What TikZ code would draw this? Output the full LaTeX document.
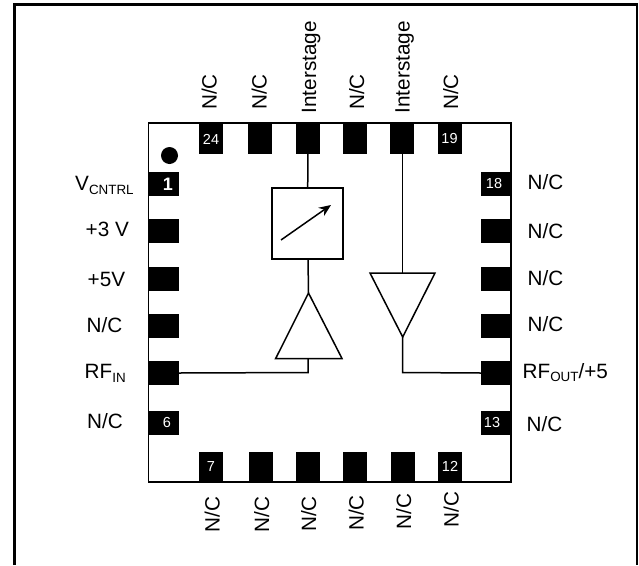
\documentclass[tikz,border=0pt]{standalone}
\usepackage{fontspec}
\setmainfont{Liberation Sans}
\usetikzlibrary{arrows.meta}
\tikzset{x=1pt,y=-1pt,
 pad/.style={fill=black,draw=none,inner sep=0pt,text=white,font=\fontsize{14.5}{16}\selectfont},
 hpad/.style={pad,minimum width=30pt,minimum height=24pt},
 vpad/.style={pad,minimum width=24pt,minimum height=30pt},
 lab/.style={font=\fontsize{20.7}{22}\selectfont,inner sep=0pt,text=black},
 wire/.style={line width=1.5pt},
 body/.style={line width=1.5pt,draw=black,fill=white}}
\newcommand{\lsub}[1]{\raisebox{-0.32ex}{\fontsize{13.4}{14}\selectfont #1}}
\begin{document}
\begin{tikzpicture}[line join=miter]
\useasboundingbox (0,0) rectangle (639,565);
\draw[line width=2.7pt] (14.7,565) -- (14.7,4.7) -- (637,4.7) -- (637,565);
\draw[line width=1.5pt] (148.5,123) rectangle (511,482);
% left pads
\node[hpad] (l1) at (164,184) {\hspace*{8pt}\textbf{\fontsize{18}{20}\selectfont 1}};
\node[hpad] (l2) at (164,231) {};
\node[hpad] (l3) at (164,279) {};
\node[hpad] (l4) at (164,326) {};
\node[hpad] (l5) at (164,373) {};
\node[hpad] (l6) at (164,422.5) {\hspace*{6pt}6};
% right pads
\node[hpad] (r18) at (496,184) {18\hspace*{4pt}};
\node[hpad] (r17) at (496,231) {};
\node[hpad] (r16) at (496,279) {};
\node[hpad] (r15) at (496,326) {};
\node[hpad] (r14) at (496,373) {};
\node[hpad] (r13) at (496,422.5) {13\hspace*{8pt}};
% top pads
\node[vpad] (t24) at (211,139) {24};
\node[vpad] (t23) at (260,139) {};
\node[vpad] (t22) at (308,139) {};
\node[vpad] (t21) at (355,139) {};
\node[vpad] (t20) at (402,139) {};
\node[vpad] (t19) at (449.5,139) {\raisebox{-2pt}{19}};
% bottom pads
\node[vpad] (b7) at (211,467) {7};
\node[vpad] (b8) at (261,467) {};
\node[vpad] (b9) at (308,467) {};
\node[vpad] (b10) at (355,467) {};
\node[vpad] (b11) at (403,467) {};
\node[vpad] (b12) at (450,467) {\raisebox{2pt}{12}};
\node[circle,fill=black,minimum size=17pt,inner sep=0pt] (dot) at (169.5,155.5) {};
% attenuator
\node[body,minimum width=71pt,minimum height=71pt,inner sep=0pt] (att) at (307.5,223.5) {};
\coordinate (as) at (281,240);
\coordinate (ae) at (331,205);
\draw[line width=1.5pt,-{Stealth[length=12pt,width=10pt]}] (as) -- (ae);
% amps
\coordinate (a1t) at (308.5,293);
\coordinate (a1l) at (275.7,358.5);
\coordinate (a1r) at (342,358.5);
\coordinate (a1b) at (308,358.5);
\draw[body] (a1t) -- (a1r) -- (a1l) -- cycle;
\coordinate (a2b) at (402.7,337);
\coordinate (a2l) at (370,273);
\coordinate (a2r) at (435,273);
\coordinate (a2t) at (402.7,273);
\draw[body] (a2b) -- (a2r) -- (a2l) -- cycle;
% wires
\draw[wire] (t22) -- (att);
\draw[wire] (att) -- (a1t);
\draw[wire] (t20.south -| a2t) -- (a2t);
\draw[wire] (l5.east) -- (308,372.5) -- (a1b);
\draw[wire] (a2b) -- (402.7,372.5) -- (r14.west);
% left labels
\node[lab,anchor=base west] (lv) at (75,190.5) {V\lsub{CNTRL}};
\node[lab,anchor=base west] (lp3) at (85.5,236.7) {+3 V};
\node[lab,anchor=base west] (lp5) at (87.5,286) {+5V};
\node[lab,anchor=base west] (ln4) at (86.5,332.7) {N/C};
\node[lab,anchor=base west] (lrf) at (84.5,378.5) {RF\lsub{IN}};
\node[lab,anchor=base west] (ln6) at (87,428) {N/C};
% right labels
\node[lab,anchor=base west] (rn1) at (527.5,189) {N/C};
\node[lab,anchor=base west] (rn2) at (527.5,238) {N/C};
\node[lab,anchor=base west] (rn3) at (527.5,285) {N/C};
\node[lab,anchor=base west] (rn4) at (527.5,331) {N/C};
\node[lab,anchor=base west] (rrf) at (522.5,378) {RF\lsub{OUT}/+5};
\node[lab,anchor=base west] (rn6) at (526.5,431) {N/C};
% top labels
\node[lab,rotate=90,anchor=base west] (u1) at (216.7,110) {N/C};
\node[lab,rotate=90,anchor=base west] (u2) at (266.5,110) {N/C};
\node[lab,rotate=90,anchor=base west] (u3) at (316,113.5) {Interstage};
\node[lab,rotate=90,anchor=base west] (u4) at (364,110) {N/C};
\node[lab,rotate=90,anchor=base west] (u5) at (409.5,113.5) {Interstage};
\node[lab,rotate=90,anchor=base west] (u6) at (458,110) {N/C};
% bottom labels
\node[lab,rotate=90,anchor=base west] (d1) at (219.5,532.5) {N/C};
\node[lab,rotate=90,anchor=base west] (d2) at (269,532.5) {N/C};
\node[lab,rotate=90,anchor=base west] (d3) at (316,532) {N/C};
\node[lab,rotate=90,anchor=base west] (d4) at (363.5,531) {N/C};
\node[lab,rotate=90,anchor=base west] (d5) at (411,529.5) {N/C};
\node[lab,rotate=90,anchor=base west] (d6) at (458.5,527.5) {N/C};
\end{tikzpicture}
\end{document}
